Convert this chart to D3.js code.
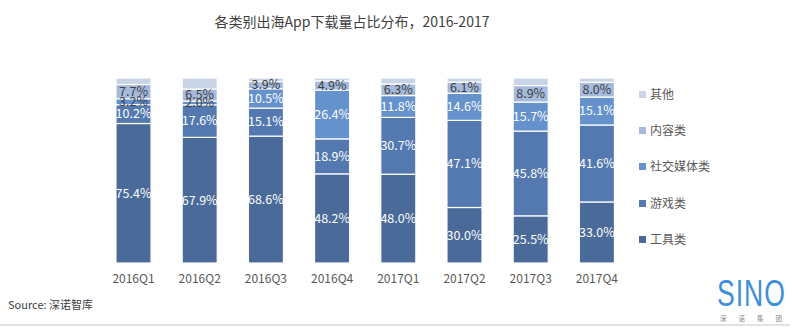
<!DOCTYPE html>
<html><head><meta charset="utf-8">
<script src="https://cdn.jsdelivr.net/npm/d3@7"></script>
<style>body{margin:0;background:#fff}svg{display:block;font-family:"Noto Sans CJK SC","Microsoft YaHei",sans-serif}</style>
</head><body><svg id="c" width="800" height="333"></svg>
<script>
const quarters = ["2016Q1","2016Q2","2016Q3","2016Q4","2017Q1","2017Q2","2017Q3","2017Q4"];
const seriesNames = ["工具类","游戏类","社交媒体类","内容类","其他"];
const tool    = [75.4, 67.9, 68.6, 48.2, 48.0, 30.0, 25.5, 33.0];
const game    = [10.2, 17.6, 15.1, 18.9, 30.7, 47.1, 45.8, 41.6];
const social  = [3.2, 2.0, 10.5, 26.4, 11.8, 14.6, 15.7, 15.1];
const content = [7.7, 6.5, 3.9, 4.9, 6.3, 6.1, 8.9, 8.0];
const other   = [3.5, 6.0, 1.9, 1.6, 3.2, 2.2, 4.1, 2.3];
const colors = ["#4a6a99","#5479b0","#6591cc","#a5badc","#c9d4e7"];
const labelColors = ["#fff","#fff","#fff","#3f3f3f",null];

const rows = quarters.map((q,i)=>({q, "工具类":tool[i],"游戏类":game[i],"社交媒体类":social[i],"内容类":content[i],"其他":other[i]}));
const stack = d3.stack().keys(seriesNames)(rows);

const svg = d3.select("#c");
const x = d3.scaleBand().domain(quarters).range([100.4,630]).paddingInner(0.47).paddingOuter(0.235);
const y = d3.scaleLinear().domain([0,100]).range([263,78]);

svg.append("text").attr("x",352).attr("y",27).attr("text-anchor","middle")
  .attr("font-size",14).attr("fill","#404040").text("各类别出海App下载量占比分布，2016-2017");

const g = svg.append("g");
stack.forEach((s,si)=>{
  g.selectAll(null).data(s).enter().append("rect")
    .attr("x",d=>x(d.data.q)).attr("width",x.bandwidth())
    .attr("y",d=>y(d[1])).attr("height",d=>y(d[0])-y(d[1]))
    .attr("fill",colors[si]).attr("stroke","#fff").attr("stroke-width",1.2);
});
stack.forEach((s,si)=>{
  if(!labelColors[si]) return;
  g.selectAll(null).data(s).enter().append("text")
    .attr("x",d=>x(d.data.q)+x.bandwidth()/2)
    .attr("y",d=>(y(d[0])+y(d[1]))/2)
    .attr("dy","0.35em").attr("text-anchor","middle").attr("font-size",12.5)
    .attr("fill",d=>(d[1]-d[0])<5?"#3f3f3f":labelColors[si])
    .text(d=>(d[1]-d[0]).toFixed(1)+"%");
});

const xAxis = svg.append("g").attr("transform","translate(0,263)").call(d3.axisBottom(x).tickSize(0).tickPadding(11));
xAxis.select(".domain").remove();
xAxis.selectAll("text").attr("font-size",12).attr("fill","#595959").attr("font-family","Noto Sans CJK SC, sans-serif");

const legendY = [240,204,167,131,95];
const lg = svg.append("g");
seriesNames.forEach((n,i)=>{
  lg.append("rect").attr("x",639).attr("y",legendY[i]-4).attr("width",7).attr("height",7).attr("fill",colors[i]);
  lg.append("text").attr("x",650).attr("y",legendY[i]).attr("dy","0.35em").attr("font-size",12).attr("fill","#595959").text(n);
});

svg.append("text").attr("x",8).attr("y",309).attr("font-size",11).attr("fill","#404040").text("Source: 深诺智库");
svg.append("line").attr("x1",0).attr("x2",790).attr("y1",325).attr("y2",325).attr("stroke","#d9d9d9").attr("stroke-width",1.5);

const logo = svg.append("g");
logo.append("text").attr("x",0).attr("y",0).attr("transform","translate(717,306) scale(0.95,1.3)")
  .attr("font-size",28).attr("font-family","Liberation Sans, Arial, sans-serif").attr("fill","#3d8fd8")
  .attr("letter-spacing",1).text("SINO");
logo.append("text").attr("x",720).attr("y",321).attr("font-size",6.5).attr("fill","#888")
  .attr("letter-spacing",12).text("深诺集团");
</script></body></html>
